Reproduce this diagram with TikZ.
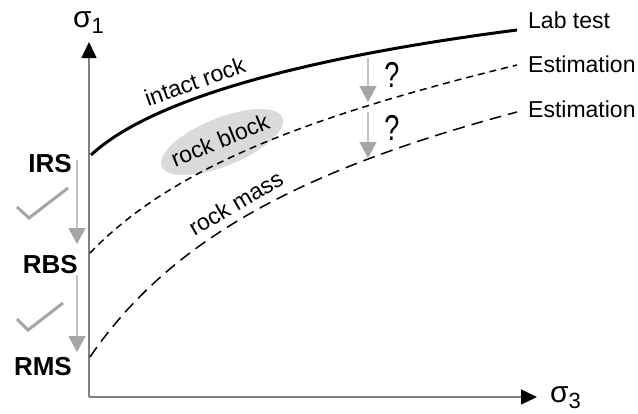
\documentclass[tikz,border=0pt]{standalone}
\usepackage{fontspec}
\setmainfont{Liberation Sans}
\usepackage{tikz}
\usetikzlibrary{arrows.meta, positioning, calc}
\definecolor{axisgray}{RGB}{128, 128, 128}
\definecolor{dropgray}{RGB}{195, 195, 195}
\definecolor{tipgray}{RGB}{165, 165, 165}
\definecolor{blockfill}{RGB}{218, 218, 218}

\begin{document}
\begin{tikzpicture}[x=1pt, y=-1pt,
        every node/.style={font=\fontsize{23}{27}\selectfont, inner sep=0pt},
        axis/.style={draw=axisgray, line width=1.5pt,
                     -{Triangle[width=15pt, length=16pt, color=black]}},
        drop/.style={draw=dropgray, line width=1.5pt,
                     -{Triangle[width=17pt, length=16pt, color=tipgray]}},
        checkmk/.style={draw=tipgray, line width=3pt},
        lab/.style={font=\fontsize{26}{30}\selectfont\bfseries, anchor=base east},
        est/.style={anchor=base west},
        sig/.style={font=\fontsize{30}{34}\selectfont, anchor=base west},
        qmark/.style={font=\fontsize{36}{40}\selectfont},
        intact/.style={line width=3pt},
        blockline/.style={line width=1.5pt, dash pattern=on 7pt off 5pt},
        massline/.style={line width=1.5pt, dash pattern=on 12pt off 7pt}
      ]
        \useasboundingbox (0,0) rectangle (638,413);

        % axes
        \coordinate (O)  at (89,397);
        \coordinate (yt) at (89,42);
        \coordinate (xt) at (537,397);
        \draw[axis] (O) -- (yt);
        \draw[axis] (O) -- (xt);
        \node[sig] (s1) at (73,27) {σ\raisebox{-6pt}{\fontsize{22}{22}\selectfont 1}};
        \node[sig] (s3) at (550,402) {σ\raisebox{-6pt}{\fontsize{22}{22}\selectfont 3}};

        % rock block highlight
        \coordinate (blk) at (222,142);
        \fill[blockfill, rotate around={22:(blk)}] (blk) ellipse [x radius=65pt, y radius=24pt];
        \node[rotate=22] (blklab) at (220,140) {rock block};

        % strength curves
        \coordinate (int0) at (91,155);
        \coordinate (int1) at (517,30);
        \coordinate (rb0) at (90,253);
        \coordinate (rb1) at (517,65);
        \coordinate (rm0) at (90,357);
        \coordinate (rm1) at (517,112);
        \draw[intact] (int0) .. controls (150,100) and (300,58) .. (int1)
          node[pos=0.39, sloped, above=6pt] (intlab) {intact rock};
        \draw[blockline] (rb0) .. controls (170,170) and (300,118) .. (rb1);
        \draw[massline] (rm0) .. controls (170,240) and (300,170) .. (rm1)
          node[pos=0.48, sloped, above=7pt] (rmlab) {rock mass};

        \node[est] (lab)  at (528,28)  {Lab test};
        \node[est] (est1) at (528,72)  {Estimation};
        \node[est] (est2) at (528,117) {Estimation};

        % strength levels
        \node[lab] (irs) at (72,172) {IRS};
        \node[lab] (rbs) at (78,273) {RBS};
        \node[lab] (rms) at (72,375) {RMS};
        \coordinate (d1a) at (77,160);
        \coordinate (d1b) at (77,244);
        \coordinate (d2a) at (77,275);
        \coordinate (d2b) at (77,352);
        \draw[drop] (d1a) -- (d1b);
        \draw[drop] (d2a) -- (d2b);
        \draw[checkmk] (17,207) -- (29,218) -- (68,188);
        \draw[checkmk] (17,319) -- (28,330) -- (63,303);

        % unknown reductions
        \coordinate (q1a) at (368,58);
        \coordinate (q1b) at (368,102);
        \coordinate (q2a) at (368,112);
        \coordinate (q2b) at (368,158);
        \draw[drop] (q1a) -- (q1b);
        \draw[drop] (q2a) -- (q2b);
        \node[qmark] (q1) at (392,75)  {\scalebox{0.75}[1]{?}};
        \node[qmark] (q2) at (392,128) {\scalebox{0.75}[1]{?}};
      \end{tikzpicture}
\end{document}
